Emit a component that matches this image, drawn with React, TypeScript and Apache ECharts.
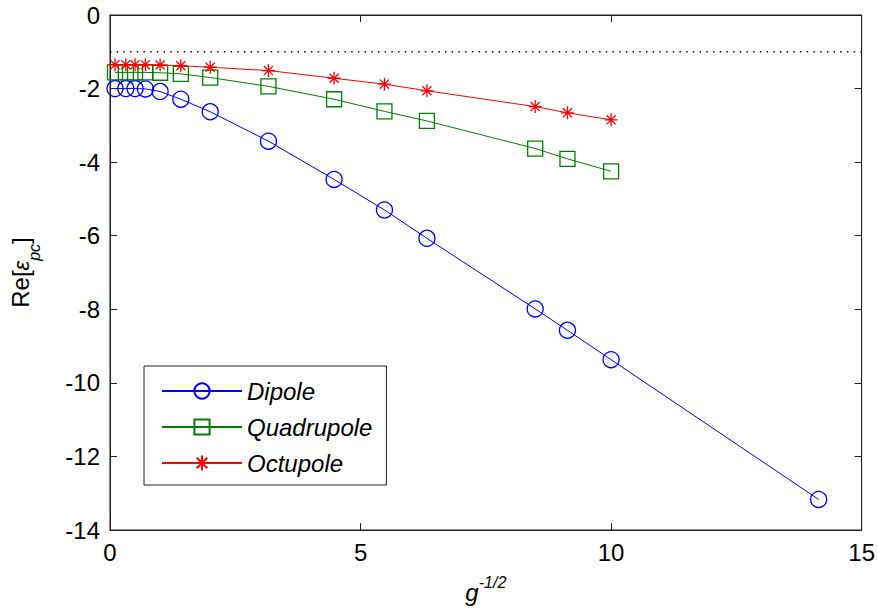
import React, { useEffect, useRef } from "react";
import * as echarts from "echarts";

// g^{-1/2} sample points shared by all three multipoles
const xDipole = [0.1, 0.316, 0.5, 0.707, 1, 1.414, 2, 3.162, 4.472, 5.477, 6.325, 8.485, 9.129, 10, 14.142];
const yDipole = [-2.0, -2.0, -2.0, -2.01, -2.08, -2.29, -2.63, -3.43, -4.47, -5.3, -6.07, -7.99, -8.57, -9.37, -13.17];

const xQuad = [0.1, 0.316, 0.5, 0.707, 1, 1.414, 2, 3.162, 4.472, 5.477, 6.325, 8.485, 9.129, 10];
const yQuad = [-1.56, -1.56, -1.56, -1.56, -1.57, -1.6, -1.7, -1.94, -2.29, -2.62, -2.88, -3.63, -3.91, -4.25];

const xOct = [0.1, 0.316, 0.5, 0.707, 1, 1.414, 2, 3.162, 4.472, 5.477, 6.325, 8.485, 9.129, 10];
const yOct = [-1.35, -1.35, -1.35, -1.35, -1.36, -1.38, -1.42, -1.51, -1.72, -1.88, -2.06, -2.49, -2.66, -2.85];

// reference level drawn as a dotted line
const refLevel = -1;
const xRange = [0, 15];

const seriesNames = ["Dipole", "Quadrupole", "Octupole"];

const FONT = "'Liberation Sans', Arial, Helvetica, sans-serif";
const AXIS_COLOR = "#222";
const STAR = "path://M8 0L8 16M0 8L16 8M2.4 2.4L13.6 13.6M2.4 13.6L13.6 2.4";

const zip = (xs: number[], ys: number[]) => xs.map((x, i) => [x, ys[i]]);

export default function App() {
  const ref = useRef<HTMLDivElement>(null);

  useEffect(() => {
    if (!ref.current) return;
    const chart = echarts.init(ref.current, undefined, { renderer: "svg" });

    const axisCommon = {
      axisLine: { show: true, onZero: false, lineStyle: { color: AXIS_COLOR, width: 1 } },
      axisTick: { show: true, inside: true, length: 7, lineStyle: { color: AXIS_COLOR } },
      splitLine: { show: false },
    };

    chart.setOption({
      animation: false,
      backgroundColor: "#fff",
      textStyle: { fontFamily: FONT },
      grid: { left: 108, right: 16, top: 15, bottom: 81, show: true, borderColor: AXIS_COLOR, borderWidth: 1 },
      legend: {
        data: seriesNames,
        orient: "vertical",
        left: 144,
        top: 366,
        itemWidth: 80,
        itemHeight: 19,
        itemGap: 12,
        padding: [13, 14, 10, 17],
        borderColor: AXIS_COLOR,
        borderWidth: 1,
        backgroundColor: "#fff",
        textStyle: { fontFamily: FONT, fontSize: 24, fontStyle: "italic", color: "#000" },
      },
      xAxis: [
        {
          type: "value",
          position: "bottom",
          min: 0,
          max: 15,
          interval: 5,
          ...axisCommon,
          axisLabel: { fontFamily: FONT, fontSize: 24, color: "#000", margin: 10 },
          name: "{g|g}{s|-1/2}",
          nameLocation: "middle",
          nameGap: 44,
          nameTextStyle: {
            rich: {
              g: { fontFamily: FONT, fontSize: 24, fontStyle: "italic", color: "#000", lineHeight: 24, verticalAlign: "top", padding: [6, 0, 0, 0] },
              s: { fontFamily: FONT, fontSize: 16, fontStyle: "italic", color: "#000", lineHeight: 16, verticalAlign: "top" },
            },
          },
        },
        {
          type: "value",
          position: "top",
          min: 0,
          max: 15,
          interval: 5,
          ...axisCommon,
          axisLabel: { show: false },
        },
      ],
      yAxis: [
        {
          type: "value",
          position: "left",
          min: -14,
          max: 0,
          interval: 2,
          ...axisCommon,
          axisLabel: { fontFamily: FONT, fontSize: 24, color: "#000", margin: 10 },
          name: "{n|Re[}{e|ε}{s|pc}{n|]}",
          nameLocation: "middle",
          nameRotate: 90,
          nameGap: 68,
          nameTextStyle: {
            rich: {
              n: { fontFamily: FONT, fontSize: 24, color: "#000", lineHeight: 24, verticalAlign: "bottom", padding: [0, 0, 10, 0] },
              e: { fontFamily: FONT, fontSize: 22, fontStyle: "italic", color: "#000", lineHeight: 24, verticalAlign: "bottom", padding: [0, 0, 10, 0] },
              s: { fontFamily: FONT, fontSize: 16, fontStyle: "italic", color: "#000", lineHeight: 16, verticalAlign: "bottom" },
            },
          },
        },
        {
          type: "value",
          position: "right",
          min: -14,
          max: 0,
          interval: 2,
          ...axisCommon,
          axisLabel: { show: false },
        },
      ],
      series: [
        {
          name: "",
          type: "line",
          data: xRange.map((x) => [x, refLevel]),
          symbol: "none",
          silent: true,
          lineStyle: { color: "#000", width: 1.4, type: [1.4, 5.3] },
          z: 1,
        },
        {
          name: "Dipole",
          type: "line",
          data: zip(xDipole, yDipole),
          symbol: "circle",
          symbolSize: 16,
          lineStyle: { color: "#0000ff", width: 1 },
          itemStyle: { color: "rgba(0,0,0,0)", borderColor: "#0000ff", borderWidth: 1.3 },
          z: 3,
        },
        {
          name: "Quadrupole",
          type: "line",
          data: zip(xQuad, yQuad),
          symbol: "rect",
          symbolSize: 15,
          lineStyle: { color: "#008000", width: 1 },
          itemStyle: { color: "rgba(0,0,0,0)", borderColor: "#008000", borderWidth: 1.3 },
          z: 4,
        },
        {
          name: "Octupole",
          type: "line",
          data: zip(xOct, yOct),
          symbol: STAR,
          symbolSize: 13,
          lineStyle: { color: "#ff0000", width: 1 },
          itemStyle: { color: "rgba(0,0,0,0)", borderColor: "#ff0000", borderWidth: 1.3 },
          z: 5,
        },
      ],
    });

    return () => chart.dispose();
  }, []);

  return (
    <div
      ref={ref}
      style={{ position: "fixed", left: 0, top: 0, width: 878, height: 611 }}
    />
  );
}
